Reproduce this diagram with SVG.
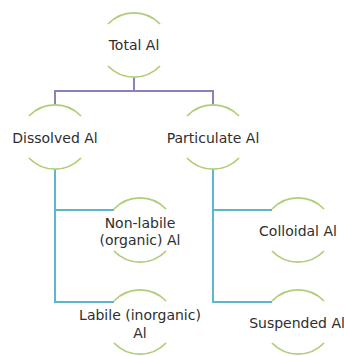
<svg xmlns="http://www.w3.org/2000/svg" width="344" height="356" viewBox="0 0 344 356">
  <style>
    .arc { fill: none; stroke: #b0cd78; stroke-width: 1.8; }
    .lbl { font-family: "DejaVu Sans", "Liberation Sans", sans-serif; font-size: 14px; fill: #2e2e2e; text-anchor: middle; }
    .trunk { fill: none; stroke: #8c80bf; stroke-width: 2; }
    .branch { fill: none; stroke: #5bb7c9; stroke-width: 2; }
  </style>
  <rect width="344" height="356" fill="#ffffff"/>

  <!-- connectors -->
  <g id="connectors">
    <path class="trunk" d="M134,77 V91 M55,105 V91 H213 V105"/>
    <path class="branch" d="M55,169 V302 H114 M55,210 H114"/>
    <path class="branch" d="M213,169 V302 H272 M213,210 H272"/>
  </g>

  <!-- nodes: label framed by an upper and lower arc -->
  <g id="total">
    <path class="arc" d="M108,24 A36,36 0 0 1 160,24"/>
    <text class="lbl" x="134" y="50">Total Al</text>
    <path class="arc" d="M108,66 A36,36 0 0 0 160,66"/>
  </g>

  <g id="dissolved">
    <path class="arc" d="M29,116 A36,36 0 0 1 81,116"/>
    <text class="lbl" x="55" y="143">Dissolved Al</text>
    <path class="arc" d="M29,158 A36,36 0 0 0 81,158"/>
  </g>

  <g id="particulate">
    <path class="arc" d="M187,116 A36,36 0 0 1 239,116"/>
    <text class="lbl" x="213" y="143">Particulate Al</text>
    <path class="arc" d="M187,158 A36,36 0 0 0 239,158"/>
  </g>

  <g id="non-labile">
    <path class="arc" d="M114,209 A36,36 0 0 1 166,209"/>
    <text class="lbl" x="140" y="228">Non-labile</text>
    <text class="lbl" x="140" y="245">(organic) Al</text>
    <path class="arc" d="M114,251 A36,36 0 0 0 166,251"/>
  </g>

  <g id="colloidal">
    <path class="arc" d="M272,209 A36,36 0 0 1 324,209"/>
    <text class="lbl" x="298" y="236">Colloidal Al</text>
    <path class="arc" d="M272,251 A36,36 0 0 0 324,251"/>
  </g>

  <g id="labile">
    <path class="arc" d="M114,301 A36,36 0 0 1 166,301"/>
    <text class="lbl" x="140" y="320">Labile (inorganic)</text>
    <text class="lbl" x="140" y="338">Al</text>
    <path class="arc" d="M114,343 A36,36 0 0 0 166,343"/>
  </g>

  <g id="suspended">
    <path class="arc" d="M272,301 A36,36 0 0 1 324,301"/>
    <text class="lbl" x="297" y="328">Suspended Al</text>
    <path class="arc" d="M272,343 A36,36 0 0 0 324,343"/>
  </g>
</svg>
